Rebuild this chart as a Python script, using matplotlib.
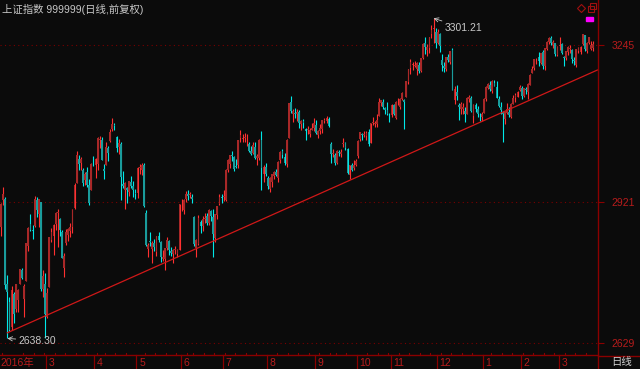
import numpy as np
import pandas as pd
import matplotlib
matplotlib.use("Agg")
import matplotlib.pyplot as plt
from matplotlib.patches import Rectangle
from matplotlib.transforms import blended_transform_factory

# daily bars, 2016-01-22 .. 2017-03-23 (one row per month)
opens = [
    2869, 2925, 2926, 2752, 2713, 2662,
    2730, 2699, 2718, 2751, 2780, 2720, 2757, 2830, 2876, 2862, 2871, 2925, 2896, 2920, 2740, 2750,
    2683, 2745, 2842, 2850, 2875, 2898, 2885, 2859, 2785, 2835, 2853, 2860, 2870, 2909, 2961, 3009, 3002, 2986, 2967, 2983, 2957, 2946, 3004,
    2997, 3000, 3049, 3050, 2990, 2998, 3033, 3047, 3072, 3081, 3055, 3034, 3041, 2959, 2946, 2950, 2942, 2963, 2953, 2940,
    2939, 2991, 2986, 2997, 2897, 2823, 2839, 2824, 2835, 2818, 2851, 2837, 2802, 2803, 2825, 2840, 2820, 2813, 2821, 2813, 2822,
    2912, 2905, 2926, 2937, 2935, 2931, 2890, 2826, 2834, 2879, 2871, 2886, 2891, 2878, 2902, 2889, 2847, 2893, 2917, 2931,
    2931, 2924, 2988, 3000, 3018, 3013, 2996, 2997, 3053, 3052, 3054, 3042, 3040, 3027, 3022, 3035, 3012, 3011, 3049, 2978, 2993,
    2971, 2948, 2963, 2975, 2982, 2970, 3007, 3027, 3013, 3000, 3054, 3127, 3104, 3106, 3102, 3107, 3082, 3089, 3072, 3070, 3062, 3070, 3075,
    3081, 3060, 3068, 3071, 3089, 3089, 3092, 3040, 3020, 3018, 3002, 3024, 3020, 3040, 3042, 3031, 2976, 2997, 2992, 2998,
    3015, 3051, 3061, 3060, 3058, 3066, 3042, 3084, 3083, 3083, 3098, 3125, 3128, 3115, 3112, 3101,
    3100, 3122, 3095, 3125, 3117, 3134, 3131, 3138, 3170, 3199, 3204, 3203, 3197, 3205, 3192, 3219, 3249, 3235, 3239, 3268, 3278, 3272,
    3250, 3268, 3214, 3203, 3196, 3220, 3210, 3235, 3132, 3149, 3121, 3113, 3113, 3110, 3104, 3134, 3137, 3099, 3122, 3113, 3097, 3096,
    3105, 3133, 3157, 3163, 3150, 3167, 3159, 3135, 3117, 3108, 3093, 3105, 3107, 3096, 3124, 3136, 3139, 3152,
    3157, 3141, 3154, 3149, 3164, 3187, 3199, 3216, 3220, 3208, 3231, 3203, 3237, 3252, 3260, 3246, 3249, 3226,
    3244, 3248, 3222, 3219, 3232, 3238, 3235, 3214, 3205, 3234, 3232, 3248, 3266, 3234, 3250, 3238, 3240,
]
highs = [
    2918, 2951, 2932, 2769, 2725, 2747,
    2734, 2750, 2740, 2783, 2784, 2750, 2836, 2870, 2896, 2874, 2933, 2932, 2928, 2920, 2780, 2773,
    2743, 2849, 2867, 2875, 2900, 2906, 2887, 2863, 2815, 2865, 2866, 2877, 2907, 2960, 3026, 3019, 3014, 2991, 2983, 2993, 2968, 3002, 3017,
    3012, 3056, 3057, 3055, 3000, 3046, 3036, 3072, 3095, 3085, 3057, 3052, 3045, 2984, 2962, 2952, 2965, 2974, 2965, 2947,
    2993, 2999, 3002, 3002, 2904, 2836, 2858, 2841, 2845, 2851, 2859, 2840, 2821, 2826, 2848, 2843, 2828, 2823, 2830, 2824, 2917,
    2926, 2927, 2944, 2946, 2942, 2938, 2892, 2845, 2893, 2884, 2891, 2899, 2897, 2906, 2905, 2907, 2896, 2913, 2938, 2937,
    2945, 2989, 3010, 3019, 3026, 3016, 3009, 3050, 3070, 3062, 3064, 3061, 3046, 3037, 3045, 3044, 3021, 3051, 3068, 2998, 3002,
    2974, 2973, 2979, 2984, 2990, 3005, 3026, 3031, 3023, 3051, 3126, 3140, 3114, 3115, 3113, 3112, 3091, 3093, 3074, 3078, 3075, 3085, 3095,
    3091, 3069, 3082, 3091, 3095, 3098, 3097, 3045, 3031, 3022, 3029, 3029, 3031, 3053, 3046, 3032, 2998, 3001, 3007, 3009,
    3049, 3066, 3064, 3067, 3067, 3071, 3085, 3096, 3088, 3104, 3136, 3132, 3134, 3117, 3128, 3106,
    3123, 3124, 3130, 3137, 3137, 3149, 3134, 3172, 3197, 3217, 3211, 3213, 3210, 3210, 3219, 3249, 3262, 3248, 3262, 3288, 3301.21, 3282,
    3279, 3270, 3227, 3211, 3222, 3227, 3234, 3239, 3160, 3164, 3126, 3128, 3125, 3117, 3138, 3142, 3140, 3123, 3126, 3119, 3106, 3108,
    3136, 3160, 3168, 3172, 3173, 3174, 3171, 3141, 3128, 3109, 3110, 3125, 3117, 3125, 3143, 3147, 3150, 3162,
    3160, 3157, 3158, 3167, 3185, 3203, 3217, 3219, 3231, 3230, 3235, 3240, 3255, 3262, 3265, 3256, 3251, 3243,
    3263, 3250, 3223, 3234, 3243, 3245, 3237, 3222, 3238, 3241, 3243, 3269, 3266, 3252, 3262, 3255, 3255,
]
lows = [
    2851, 2915, 2740, 2638.30, 2654, 2655,
    2671, 2692, 2694, 2751, 2762, 2683, 2757, 2820, 2861, 2845, 2870, 2890, 2869, 2737, 2725, 2639,
    2681, 2745, 2838, 2811, 2862, 2827, 2850, 2805, 2765, 2831, 2839, 2849, 2856, 2906, 2961, 2986, 2988, 2954, 2956, 2952, 2915, 2946, 2995,
    2970, 2988, 3032, 3007, 2969, 2998, 3005, 3045, 3067, 3070, 3025, 3020, 2924, 2950, 2907, 2918, 2933, 2950, 2932, 2926,
    2930, 2978, 2977, 2911, 2830, 2807, 2830, 2795, 2820, 2809, 2837, 2797, 2799, 2781, 2821, 2811, 2810, 2794, 2814, 2806, 2822,
    2903, 2895, 2920, 2925, 2929, 2918, 2829, 2807, 2831, 2856, 2860, 2878, 2873, 2873, 2882, 2807, 2837, 2886, 2914, 2919,
    2923, 2923, 2982, 2991, 3005, 2985, 2991, 2992, 3044, 3045, 3046, 3036, 3024, 3019, 3020, 3009, 2997, 3007, 2946, 2962, 2974,
    2947, 2941, 2952, 2968, 2975, 2962, 3001, 3012, 2998, 2993, 3053, 3106, 3086, 3095, 3089, 3074, 3070, 3075, 3050, 3062, 3055, 3070, 3068,
    3062, 3053, 3061, 3064, 3085, 3085, 3076, 3001, 3013, 2998, 3000, 3016, 3014, 3034, 3029, 2979, 2968, 2985, 2988, 2996,
    3012, 3047, 3050, 3055, 3049, 3037, 3042, 3080, 3077, 3077, 3098, 3120, 3113, 3102, 3100, 3087,
    3096, 3101, 3093, 3122, 3114, 3132, 3072, 3138, 3165, 3186, 3195, 3201, 3184, 3188, 3189, 3217, 3228, 3223, 3230, 3260, 3250, 3240,
    3248, 3232, 3192, 3190, 3193, 3211, 3206, 3152, 3123, 3131, 3090, 3104, 3102, 3086, 3104, 3127, 3107, 3085, 3108, 3096, 3089, 3088,
    3105, 3130, 3154, 3150, 3147, 3160, 3136, 3117, 3102, 3044, 3083, 3104, 3096, 3094, 3123, 3127, 3138, 3151,
    3133, 3138, 3145, 3135, 3163, 3187, 3195, 3207, 3203, 3206, 3196, 3194, 3236, 3247, 3245, 3240, 3223, 3224,
    3236, 3228, 3203, 3215, 3226, 3229, 3208, 3204, 3201, 3229, 3228, 3246, 3234, 3230, 3248, 3235, 3233,
]
closes = [
    2916, 2938, 2749, 2735, 2656, 2738,
    2689, 2750, 2739, 2782, 2763, 2747, 2836, 2867, 2863, 2860, 2927, 2904, 2928, 2741, 2767, 2688,
    2733, 2849, 2859, 2874, 2897, 2901, 2863, 2805, 2810, 2859, 2864, 2870, 2905, 2955, 3018, 2999, 3009, 2960, 2979, 2957, 2919, 3000, 3003,
    3009, 3053, 3050, 3008, 2985, 3034, 3023, 3066, 3082, 3078, 3033, 3042, 2972, 2953, 2960, 2946, 2964, 2954, 2945, 2938,
    2992, 2991, 2997, 2913, 2832, 2832, 2837, 2835, 2827, 2850, 2843, 2807, 2806, 2825, 2843, 2821, 2815, 2822, 2821, 2822, 2917,
    2913, 2925, 2938, 2934, 2936, 2927, 2833, 2842, 2887, 2872, 2885, 2888, 2878, 2905, 2892, 2854, 2895, 2912, 2931, 2930,
    2932, 2988, 3007, 3018, 3016, 2989, 2994, 3049, 3060, 3054, 3054, 3043, 3027, 3021, 3039, 3012, 3015, 3050, 2992, 2994, 2979,
    2953, 2971, 2978, 2982, 2976, 3004, 3025, 3018, 3002, 3050, 3125, 3110, 3110, 3104, 3108, 3084, 3089, 3085, 3068, 3070, 3070, 3074, 3085,
    3063, 3067, 3073, 3090, 3091, 3095, 3078, 3021, 3023, 3002, 3026, 3023, 3025, 3043, 3033, 2980, 2998, 2987, 2998, 3005,
    3048, 3066, 3059, 3062, 3064, 3041, 3084, 3085, 3084, 3091, 3128, 3131, 3117, 3112, 3104, 3100,
    3122, 3102, 3128, 3125, 3133, 3147, 3128, 3171, 3196, 3210, 3206, 3205, 3208, 3192, 3218, 3248, 3241, 3241, 3262, 3277, 3282, 3250,
    3273, 3243, 3204, 3199, 3222, 3215, 3233, 3153, 3155, 3140, 3118, 3123, 3118, 3102, 3137, 3139, 3110, 3122, 3114, 3102, 3096, 3104,
    3135, 3158, 3165, 3154, 3171, 3161, 3136, 3119, 3112, 3103, 3108, 3113, 3101, 3123, 3136, 3142, 3149, 3159,
    3140, 3156, 3153, 3166, 3183, 3196, 3216, 3217, 3212, 3229, 3202, 3240, 3253, 3261, 3251, 3253, 3228, 3242,
    3246, 3230, 3218, 3233, 3242, 3240, 3217, 3212, 3237, 3239, 3241, 3269, 3237, 3250, 3262, 3245, 3248,
]

holidays = ["2016-02-08", "2016-02-09", "2016-02-10", "2016-02-11", "2016-02-12",
            "2016-04-04", "2016-05-02", "2016-06-09", "2016-06-10",
            "2016-09-15", "2016-09-16", "2016-10-03", "2016-10-04", "2016-10-05",
            "2016-10-06", "2016-10-07", "2017-01-02", "2017-01-27", "2017-01-30",
            "2017-01-31", "2017-02-01", "2017-02-02"]
dates = pd.bdate_range("2016-01-22", "2017-03-23", freq="C", holidays=holidays)

price_ticks = [2629, 2921, 3245]
trend_idx = [3, 284]          # support line through the Jan-2016 low
trend_val = [2650, 3194]

title = "上证指数 999999(日线,前复权)"

n = min(len(dates), len(closes))
o = np.array(opens[:n], float)
h = np.array(highs[:n], float)
l = np.array(lows[:n], float)
c = np.array(closes[:n], float)
x = np.arange(n)
up = c >= o

bg = "#0b0b0b"
axis_red = "#8a0000"
label_red = "#b81c1c"
fonts = ["Liberation Sans", "Noto Sans CJK SC", "DejaVu Sans"]

fig = plt.figure(figsize=(6.4, 3.69), dpi=100, facecolor=bg)
ax = fig.add_axes([0, 14 / 369, 598 / 640, 355 / 369], facecolor=bg)
ax.set_xlim(-0.5, 284.3)
ax.set_ylim(2604, 3339)

# candles
ax.vlines(x, l, h, colors=np.where(up, "#ff3030", "#00e8e8"), lw=0.8, zorder=3)
body = np.maximum(np.abs(c - o), 1.5)
ax.bar(x, body, bottom=np.minimum(o, c), width=0.85,
       color=np.where(up, "#a82828", "#1a9c9c"), linewidth=0, zorder=4)

# trend line
ax.plot(trend_idx, trend_val, color="#d01818", lw=0.9, zorder=5)

# dotted price grid
for p in price_ticks:
    ax.axhline(p, color="#7a0000", lw=0.8, ls=(0, (1, 3)), zorder=1)

ax.set_xticks([])
ax.yaxis.tick_right()
ax.set_yticks(price_ticks)
ax.set_yticklabels([str(p) for p in price_ticks])
ax.tick_params(axis="y", colors=axis_red, length=4.3, width=0.8, pad=5.5,
               labelcolor=label_red, labelsize=7.5)
for t in ax.get_yticklabels():
    t.set_family(fonts)
for s in ["top", "left", "right"]:
    ax.spines[s].set_visible(False)
ax.spines["bottom"].set_color(axis_red)
ax.spines["bottom"].set_linewidth(1.0)

# extreme labels
i_hi = int(np.argmax(h))
i_lo = int(np.argmin(l))
ax.annotate(f"{h[i_hi]:.2f}", xy=(i_hi, h[i_hi]), xytext=(8, -7), textcoords="offset points",
            color="#c8c8c8", fontsize=7.5, family=fonts, va="center",
            arrowprops=dict(arrowstyle="->", color="#c8c8c8", lw=0.6, shrinkA=0, shrinkB=0))
ax.annotate(f"{l[i_lo]:.2f}", xy=(i_lo, l[i_lo]), xytext=(8, -1.5), textcoords="offset points",
            color="#c8c8c8", fontsize=7.5, family=fonts, va="center",
            arrowprops=dict(arrowstyle="->", color="#c8c8c8", lw=0.6, shrinkA=0, shrinkB=0))

# month labels and separators under the axis (skip a month too close to the previous label)
tr = blended_transform_factory(ax.transData, ax.transAxes)
months = dates[:n].month
last = 0
ax.text(-0.3, -0.022, f"{dates[0].year}年", transform=tr, color=label_red,
        fontsize=7.5, family=fonts, va="center", ha="left")
for i in range(1, n):
    if months[i] != months[i - 1] and i - last > 12:
        last = i
        ax.plot([i - 0.5, i - 0.5], [0, -14 / 355], transform=tr, color=axis_red,
                lw=0.9, clip_on=False)
        ax.text(i + 0.8, -0.022, str(months[i]), transform=tr, color=label_red,
                fontsize=7.5, family=fonts, va="center", ha="left")
weeks = dates[:n].isocalendar().week.values
for i in range(1, n):
    if weeks[i] != weeks[i - 1] and months[i] == months[i - 1]:
        ax.plot([i - 0.5, i - 0.5], [0, 2.5 / 355], transform=tr, color=axis_red,
                lw=0.8, clip_on=False)

# frame decorations in pixel coordinates
over = fig.add_axes([0, 0, 1, 1], facecolor="none")
over.set_xlim(0, 640)
over.set_ylim(369, 0)
over.axis("off")
over.plot([598, 598], [0, 369], color=axis_red, lw=1.0)
over.plot([598, 640], [355.5, 355.5], color=axis_red, lw=1.0)
over.plot(581, 8, marker="D", ms=4, mfc="none", mec="#a01010", mew=0.8)
over.plot(591, 9, marker="s", ms=4.5, mfc="none", mec="#a01010", mew=0.8)
over.plot(593, 6, marker="s", ms=4.5, mfc="none", mec="#a01010", mew=0.8)
over.add_patch(Rectangle((586, 17), 7, 4, color="#ff00ff"))
over.text(2, 9, title, color="#c8c8c8", fontsize=7.5, family=fonts, va="center", ha="left")
over.text(611, 362, "日线", color="#d0d0d0", fontsize=7.5, family=fonts, va="center", ha="left")

fig.savefig("out.png", dpi=100, facecolor=bg)
